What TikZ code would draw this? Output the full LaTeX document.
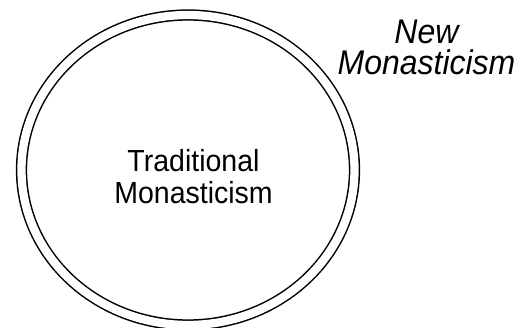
\documentclass[tikz,border=0pt]{standalone}
\usepackage{fontspec}
\setmainfont{Liberation Sans}
\usetikzlibrary{shapes.geometric}

\begin{document}
\begin{tikzpicture}[
  ring/.style={ellipse,draw,line width=1.5pt,double,double distance=8.3pt,minimum width=333pt,minimum height=310pt,inner sep=0pt},
  lbl/.style={align=center,inner sep=0pt,yscale=1.07,transform shape,font=\fontsize{28.5}{30.8}\selectfont}]
  \useasboundingbox (0pt,0pt) rectangle (527pt,-328pt);
  \node[ring] (trad) at (188pt,-170pt) {};
  \node[lbl,anchor=base] (tradtxt) at (193.5pt,-204pt) {Traditional\\Monasticism};
  \node[lbl,anchor=base,font=\fontsize{32}{29.9}\selectfont\itshape] (newtxt) at (426.5pt,-75pt) {New\\Monasticism};
\end{tikzpicture}
\end{document}
